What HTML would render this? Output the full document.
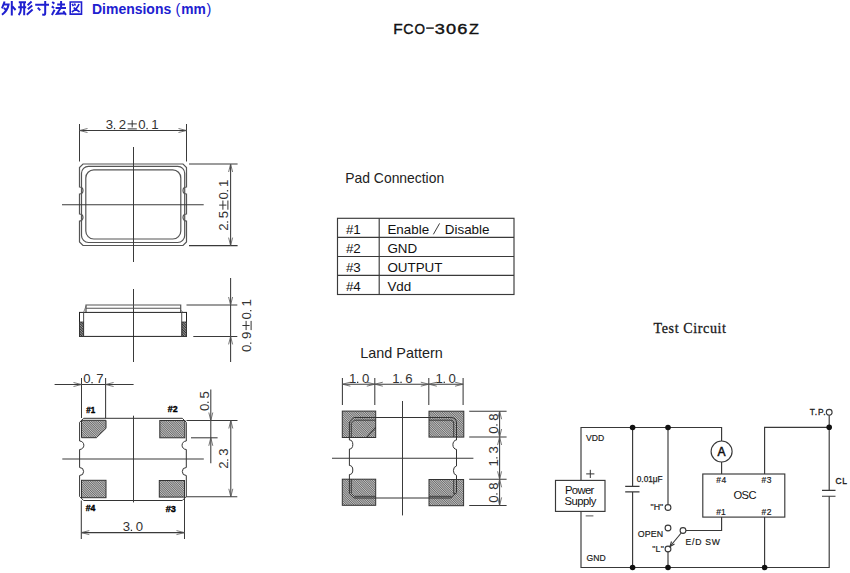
<!DOCTYPE html><html><head><meta charset="utf-8"><style>html,body{margin:0;padding:0;background:#fff;width:850px;height:573px;overflow:hidden;position:relative}</style></head><body><svg width="850" height="573" viewBox="0 0 850 573" style="position:absolute;left:0;top:0">
<defs><pattern id="hatch" patternUnits="userSpaceOnUse" width="1.6" height="1.6" patternTransform="rotate(-45)"><rect width="1.6" height="1.6" fill="#c4c4c4"/><rect width="0.7" height="1.6" fill="#5a5a5a"/></pattern><pattern id="hatch2" patternUnits="userSpaceOnUse" width="1.8" height="1.8" patternTransform="rotate(-45)"><rect width="1.8" height="1.8" fill="#999"/><rect width="0.9" height="1.8" fill="#333"/></pattern></defs>
<text x="92.0" y="13.8" font-family="Liberation Sans" font-size="15" font-weight="bold" fill="#2020d0" text-anchor="start" textLength="79.2" lengthAdjust="spacingAndGlyphs">Dimensions</text>
<text x="175.6" y="13.6" font-family="Liberation Sans" font-size="14.5" font-weight="normal" fill="#2020d0" text-anchor="start">(</text>
<text x="181.2" y="13.8" font-family="Liberation Sans" font-size="15" font-weight="bold" fill="#2020d0" text-anchor="start" textLength="24.6" lengthAdjust="spacingAndGlyphs">mm</text>
<text x="206.4" y="13.6" font-family="Liberation Sans" font-size="14.5" font-weight="normal" fill="#2020d0" text-anchor="start">)</text>
<path d="M4.6 1.5 L2 8.3 M4.2 4.5 L8.6 4.5 Q7.6 10.5 2 14.8 M3.8 8 L6.3 10 M11.8 1 L11.8 15.5 M12.4 6.4 L15.6 10 M18.8 2.2 L26 2.2 M18.2 7.2 L26.2 7.2 M20.8 2.2 L20.8 10 Q20.6 13.2 18.6 15 M24.2 2.2 L24.2 15.2 M31.6 1.6 L27.6 5.2 M32.2 5.5 L27.8 9.3 M32.6 9.6 L26.8 14.8 M35.2 4.8 L49 4.8 M45.2 1 L45.2 13.2 Q45.2 14.8 43.5 14.8 L42.2 14.6 M37.8 7.6 L40.2 10.4 M52.2 2 L54.4 3.6 M51.8 6.4 L54 8 M51.9 15 L54.6 9.8 M57.2 4.4 L65 4.4 M61.1 1 L61.1 7.9 M55.6 7.9 L66 7.9 M60.6 8.2 L56.8 13.8 L65.4 13.3 M63.3 11.2 L66 14.8" fill="none" stroke="#2020d0" stroke-width="2.0"/>
<path d="M70.2 2 L81.5 2 L81.5 14.1 L70.2 14.1 Z" fill="none" stroke="#2020d0" stroke-width="1.6"/>
<path d="M72.2 3.9 L73.4 6.1 M74.4 3.5 L75.4 5.6 M79 4 Q77 9.2 71.8 12 M73.6 7.6 L79.6 12" fill="none" stroke="#2020d0" stroke-width="1.7"/>
<text transform="translate(398.0 33.6) scale(1.0 1)" x="0" y="0" font-family="Liberation Sans" font-size="15.4" fill="#111" text-anchor="middle" stroke="#111" stroke-width="0.4">F</text>
<text transform="translate(408.35 33.6) scale(0.92 1)" x="0" y="0" font-family="Liberation Sans" font-size="15.4" fill="#111" text-anchor="middle" stroke="#111" stroke-width="0.4">C</text>
<text transform="translate(419.85 33.6) scale(0.88 1)" x="0" y="0" font-family="Liberation Sans" font-size="15.4" fill="#111" text-anchor="middle" stroke="#111" stroke-width="0.4">O</text>
<text transform="translate(439.7 33.6) scale(1.18 1)" x="0" y="0" font-family="Liberation Sans" font-size="15.4" fill="#111" text-anchor="middle" stroke="#111" stroke-width="0.4">3</text>
<text transform="translate(451.15 33.6) scale(1.18 1)" x="0" y="0" font-family="Liberation Sans" font-size="15.4" fill="#111" text-anchor="middle" stroke="#111" stroke-width="0.4">0</text>
<text transform="translate(462.35 33.6) scale(1.18 1)" x="0" y="0" font-family="Liberation Sans" font-size="15.4" fill="#111" text-anchor="middle" stroke="#111" stroke-width="0.4">6</text>
<text transform="translate(473.9 33.6) scale(1.05 1)" x="0" y="0" font-family="Liberation Sans" font-size="15.4" fill="#111" text-anchor="middle" stroke="#111" stroke-width="0.4">Z</text>
<line x1="426.2" y1="28.1" x2="433.8" y2="28.1" stroke="#111" stroke-width="1.4"/>
<line x1="79.5" y1="124" x2="79.5" y2="161.5" stroke="#3a3a3a" stroke-width="1.05"/>
<line x1="186.5" y1="124" x2="186.5" y2="161.5" stroke="#3a3a3a" stroke-width="1.05"/>
<line x1="79.5" y1="130.5" x2="186.5" y2="130.5" stroke="#3a3a3a" stroke-width="1.05"/>
<path d="M87.50 128.50 L79.5 130.5 L87.50 132.50" fill="none" stroke="#555" stroke-width="0.8"/>
<path d="M178.50 132.50 L186.5 130.5 L178.50 128.50" fill="none" stroke="#555" stroke-width="0.8"/>
<g transform="translate(106.2 129.2) rotate(0)">
<text x="3.25" y="0" font-family="Liberation Sans" font-size="13.2" fill="#333" text-anchor="middle">3</text>
<rect x="7.70" y="-1.3" width="1.3" height="1.3" fill="#333"/>
<text x="16.25" y="0" font-family="Liberation Sans" font-size="13.2" fill="#333" text-anchor="middle">2</text>
<path d="M21.40 -5.3 H30.60 M26.00 -9 V-1.8 M21.40 -0.3 H30.60" stroke="#333" stroke-width="1" fill="none"/>
<text x="35.75" y="0" font-family="Liberation Sans" font-size="13.2" fill="#333" text-anchor="middle">0</text>
<rect x="40.20" y="-1.3" width="1.3" height="1.3" fill="#333"/>
<text x="48.75" y="0" font-family="Liberation Sans" font-size="13.2" fill="#333" text-anchor="middle">1</text>
</g>
<path d="M83.0 164 L183.0 164 L186.5 167.5 L186.5 187 A3.5 3.5 0 0 0 186.5 194 L186.5 214 A3.5 3.5 0 0 0 186.5 221 L186.5 242.0 L183.0 245.5 L83.0 245.5 L79.5 242.0 L79.5 221 A3.5 3.5 0 0 0 79.5 214 L79.5 194 A3.5 3.5 0 0 0 79.5 187 L79.5 167.5 Z" fill="none" stroke="#555" stroke-width="1.2"/>
<rect x="81.5" y="166.3" width="103.2" height="76.2" rx="7" fill="none" stroke="#555" stroke-width="1.2"/>
<rect x="85.8" y="169.9" width="95" height="69.1" rx="8" fill="none" stroke="#555" stroke-width="1.2"/>
<line x1="133.5" y1="147" x2="133.5" y2="262" stroke="#3a3a3a" stroke-width="1.05"/>
<line x1="62" y1="204.7" x2="203.7" y2="204.7" stroke="#3a3a3a" stroke-width="1.05"/>
<line x1="189" y1="164" x2="237.6" y2="164" stroke="#3a3a3a" stroke-width="1.05"/>
<line x1="189" y1="245.6" x2="237.6" y2="245.6" stroke="#3a3a3a" stroke-width="1.05"/>
<line x1="230.6" y1="164" x2="230.6" y2="245.6" stroke="#3a3a3a" stroke-width="1.05"/>
<path d="M232.60 172.00 L230.6 164 L228.60 172.00" fill="none" stroke="#555" stroke-width="0.8"/>
<path d="M228.60 237.60 L230.6 245.6 L232.60 237.60" fill="none" stroke="#555" stroke-width="0.8"/>
<g transform="translate(228.2 230.1) rotate(-90)">
<text x="3.12" y="0" font-family="Liberation Sans" font-size="13.2" fill="#333" text-anchor="middle">2</text>
<rect x="7.45" y="-1.3" width="1.3" height="1.3" fill="#333"/>
<text x="15.62" y="0" font-family="Liberation Sans" font-size="13.2" fill="#333" text-anchor="middle">5</text>
<path d="M20.40 -5.3 H29.60 M25.00 -9 V-1.8 M20.40 -0.3 H29.60" stroke="#333" stroke-width="1" fill="none"/>
<text x="34.38" y="0" font-family="Liberation Sans" font-size="13.2" fill="#333" text-anchor="middle">0</text>
<rect x="38.70" y="-1.3" width="1.3" height="1.3" fill="#333"/>
<text x="46.88" y="0" font-family="Liberation Sans" font-size="13.2" fill="#333" text-anchor="middle">1</text>
</g>
<line x1="133.5" y1="289" x2="133.5" y2="362" stroke="#3a3a3a" stroke-width="1.05"/>
<path d="M86 312.4 L86 305 L180.7 305 L180.7 312.4" fill="none" stroke="#555" stroke-width="1.2"/>
<line x1="86" y1="308.2" x2="180.7" y2="308.2" stroke="#555" stroke-width="1.05"/>
<rect x="79.5" y="312.4" width="107" height="24" fill="none" stroke="#222" stroke-width="1"/>
<line x1="83.6" y1="312.4" x2="83.6" y2="336.4" stroke="#555" stroke-width="1.05"/>
<line x1="181.7" y1="312.4" x2="181.7" y2="336.4" stroke="#555" stroke-width="1.05"/>
<rect x="79.5" y="322" width="4" height="14.4" fill="url(#hatch2)" stroke="#333" stroke-width="0.8"/>
<rect x="182" y="322" width="4.5" height="14.4" fill="url(#hatch2)" stroke="#333" stroke-width="0.8"/>
<line x1="83.6" y1="312.4" x2="86" y2="306" stroke="#555" stroke-width="0.7"/>
<line x1="183" y1="312.4" x2="180.7" y2="310" stroke="#555" stroke-width="0.7"/>
<line x1="186.5" y1="305" x2="237.3" y2="305" stroke="#3a3a3a" stroke-width="1.05"/>
<line x1="193.3" y1="336.4" x2="237.3" y2="336.4" stroke="#3a3a3a" stroke-width="1.05"/>
<line x1="230.6" y1="278" x2="230.6" y2="362" stroke="#3a3a3a" stroke-width="1.05"/>
<path d="M228.60 297.00 L230.6 305 L232.60 297.00" fill="none" stroke="#555" stroke-width="0.8"/>
<path d="M232.60 344.40 L230.6 336.4 L228.60 344.40" fill="none" stroke="#555" stroke-width="0.8"/>
<g transform="translate(251.4 351.5) rotate(-90)">
<text x="3.25" y="0" font-family="Liberation Sans" font-size="13.2" fill="#333" text-anchor="middle">0</text>
<rect x="7.70" y="-1.3" width="1.3" height="1.3" fill="#333"/>
<text x="16.25" y="0" font-family="Liberation Sans" font-size="13.2" fill="#333" text-anchor="middle">9</text>
<path d="M21.40 -5.3 H30.60 M26.00 -9 V-1.8 M21.40 -0.3 H30.60" stroke="#333" stroke-width="1" fill="none"/>
<text x="35.75" y="0" font-family="Liberation Sans" font-size="13.2" fill="#333" text-anchor="middle">0</text>
<rect x="40.20" y="-1.3" width="1.3" height="1.3" fill="#333"/>
<text x="48.75" y="0" font-family="Liberation Sans" font-size="13.2" fill="#333" text-anchor="middle">1</text>
</g>
<line x1="54.6" y1="384.5" x2="133.6" y2="384.5" stroke="#3a3a3a" stroke-width="1.05"/>
<line x1="81.5" y1="378" x2="81.5" y2="418" stroke="#3a3a3a" stroke-width="1.05"/>
<line x1="105.6" y1="378" x2="105.6" y2="418" stroke="#3a3a3a" stroke-width="1.05"/>
<path d="M73.50 386.50 L81.5 384.5 L73.50 382.50" fill="none" stroke="#555" stroke-width="0.8"/>
<path d="M113.60 382.50 L105.6 384.5 L113.60 386.50" fill="none" stroke="#555" stroke-width="0.8"/>
<g transform="translate(83.7 383.3) rotate(0)">
<text x="3.25" y="0" font-family="Liberation Sans" font-size="13.2" fill="#333" text-anchor="middle">0</text>
<rect x="7.70" y="-1.3" width="1.3" height="1.3" fill="#333"/>
<text x="16.25" y="0" font-family="Liberation Sans" font-size="13.2" fill="#333" text-anchor="middle">7</text>
</g>
<path d="M83.6 418.3 L182.3 418.3 L186.3 422.3 L186.3 441 A4.25 4.25 0 0 0 186.3 449.5 L186.3 467.5 A4.0 4.0 0 0 0 186.3 475.5 L186.3 496.5 L182.3 500.5 L83.6 500.5 L79.6 496.5 L79.6 475.5 A4.0 4.0 0 0 0 79.6 467.5 L79.6 449.5 A4.25 4.25 0 0 0 79.6 441 L79.6 422.3 Z" fill="none" stroke="#333" stroke-width="1"/>
<path d="M81.5 420.3 L106 420.3 L106 428.3 L96.4 437.7 L81.5 437.7 Z" fill="url(#hatch)" stroke="#333" stroke-width="1"/>
<rect x="159.8" y="420.5" width="25" height="17.3" fill="url(#hatch)" stroke="#333" stroke-width="1"/>
<rect x="81.5" y="480.3" width="24.5" height="17.4" fill="url(#hatch)" stroke="#333" stroke-width="1"/>
<rect x="159.3" y="480.5" width="25.2" height="16.6" fill="url(#hatch)" stroke="#333" stroke-width="1"/>
<text x="86.2" y="413.1" font-family="Liberation Sans" font-size="9.8" font-weight="bold" fill="#000" text-anchor="start" textLength="8.9" lengthAdjust="spacingAndGlyphs" stroke="#000" stroke-width="0.4">#1</text>
<text x="167.8" y="412.4" font-family="Liberation Sans" font-size="9.8" font-weight="bold" fill="#000" text-anchor="start" textLength="9.8" lengthAdjust="spacingAndGlyphs" stroke="#000" stroke-width="0.4">#2</text>
<text x="85.7" y="511.2" font-family="Liberation Sans" font-size="9.8" font-weight="bold" fill="#000" text-anchor="start" textLength="9.6" lengthAdjust="spacingAndGlyphs" stroke="#000" stroke-width="0.4">#4</text>
<text x="165.7" y="511.8" font-family="Liberation Sans" font-size="9.8" font-weight="bold" fill="#000" text-anchor="start" textLength="10.2" lengthAdjust="spacingAndGlyphs" stroke="#000" stroke-width="0.4">#3</text>
<line x1="133.5" y1="415.7" x2="133.5" y2="502.4" stroke="#3a3a3a" stroke-width="1.05"/>
<line x1="62.3" y1="459" x2="203.8" y2="459" stroke="#3a3a3a" stroke-width="1.05"/>
<line x1="186.5" y1="420.5" x2="237.5" y2="420.5" stroke="#3a3a3a" stroke-width="1.05"/>
<line x1="191" y1="437.8" x2="217.6" y2="437.8" stroke="#3a3a3a" stroke-width="1.05"/>
<line x1="210.8" y1="389.4" x2="210.8" y2="463.2" stroke="#3a3a3a" stroke-width="1.05"/>
<path d="M208.80 412.50 L210.8 420.5 L212.80 412.50" fill="none" stroke="#555" stroke-width="0.8"/>
<path d="M212.80 445.80 L210.8 437.8 L208.80 445.80" fill="none" stroke="#555" stroke-width="0.8"/>
<g transform="translate(208.7 410.4) rotate(-90)">
<text x="3.10" y="0" font-family="Liberation Sans" font-size="13.2" fill="#333" text-anchor="middle">0</text>
<rect x="7.40" y="-1.3" width="1.3" height="1.3" fill="#333"/>
<text x="15.50" y="0" font-family="Liberation Sans" font-size="13.2" fill="#333" text-anchor="middle">5</text>
</g>
<line x1="185.8" y1="496.8" x2="237.3" y2="496.8" stroke="#3a3a3a" stroke-width="1.05"/>
<line x1="230.8" y1="420.5" x2="230.8" y2="496.8" stroke="#3a3a3a" stroke-width="1.05"/>
<path d="M232.80 428.50 L230.8 420.5 L228.80 428.50" fill="none" stroke="#555" stroke-width="0.8"/>
<path d="M228.80 488.80 L230.8 496.8 L232.80 488.80" fill="none" stroke="#555" stroke-width="0.8"/>
<g transform="translate(228.3 468.4) rotate(-90)">
<text x="3.25" y="0" font-family="Liberation Sans" font-size="13.2" fill="#333" text-anchor="middle">2</text>
<rect x="7.70" y="-1.3" width="1.3" height="1.3" fill="#333"/>
<text x="16.25" y="0" font-family="Liberation Sans" font-size="13.2" fill="#333" text-anchor="middle">3</text>
</g>
<line x1="81.3" y1="500.5" x2="81.3" y2="539" stroke="#3a3a3a" stroke-width="1.05"/>
<line x1="184.5" y1="495.7" x2="184.5" y2="539" stroke="#3a3a3a" stroke-width="1.05"/>
<line x1="81.3" y1="532.6" x2="184.5" y2="532.6" stroke="#3a3a3a" stroke-width="1.05"/>
<path d="M89.30 530.60 L81.3 532.6 L89.30 534.60" fill="none" stroke="#555" stroke-width="0.8"/>
<path d="M176.50 534.60 L184.5 532.6 L176.50 530.60" fill="none" stroke="#555" stroke-width="0.8"/>
<g transform="translate(123.1 531) rotate(0)">
<text x="3.25" y="0" font-family="Liberation Sans" font-size="13.2" fill="#333" text-anchor="middle">3</text>
<rect x="7.70" y="-1.3" width="1.3" height="1.3" fill="#333"/>
<text x="16.25" y="0" font-family="Liberation Sans" font-size="13.2" fill="#333" text-anchor="middle">0</text>
</g>
<text x="345.3" y="182.7" font-family="Liberation Sans" font-size="13.9" font-weight="normal" fill="#222" text-anchor="start">Pad Connection</text>
<rect x="337.5" y="218.3" width="176.5" height="76.2" fill="none" stroke="#3a3a3a" stroke-width="1.15"/>
<line x1="337.5" y1="237.3" x2="514" y2="237.3" stroke="#3a3a3a" stroke-width="1.15"/>
<line x1="337.5" y1="256.5" x2="514" y2="256.5" stroke="#3a3a3a" stroke-width="1.15"/>
<line x1="337.5" y1="275.4" x2="514" y2="275.4" stroke="#3a3a3a" stroke-width="1.15"/>
<line x1="379.2" y1="218.3" x2="379.2" y2="294.5" stroke="#3a3a3a" stroke-width="1.15"/>
<text x="345.9" y="233.5" font-family="Liberation Sans" font-size="13.4" font-weight="normal" fill="#111" text-anchor="start">#1</text>
<text x="387.4" y="233.5" font-family="Liberation Sans" font-size="13.4" font-weight="normal" fill="#111" text-anchor="start">Enable</text>
<text x="345.9" y="252.7" font-family="Liberation Sans" font-size="13.4" font-weight="normal" fill="#111" text-anchor="start">#2</text>
<text x="387.4" y="252.7" font-family="Liberation Sans" font-size="13.4" font-weight="normal" fill="#111" text-anchor="start">GND</text>
<text x="345.9" y="271.9" font-family="Liberation Sans" font-size="13.4" font-weight="normal" fill="#111" text-anchor="start">#3</text>
<text x="387.4" y="271.9" font-family="Liberation Sans" font-size="13.4" font-weight="normal" fill="#111" text-anchor="start">OUTPUT</text>
<text x="345.9" y="291.1" font-family="Liberation Sans" font-size="13.4" font-weight="normal" fill="#111" text-anchor="start">#4</text>
<text x="387.4" y="291.1" font-family="Liberation Sans" font-size="13.4" font-weight="normal" fill="#111" text-anchor="start">Vdd</text>
<line x1="433.4" y1="234.3" x2="439.6" y2="223.4" stroke="#333" stroke-width="0.95"/>
<text x="444.8" y="233.5" font-family="Liberation Sans" font-size="13.4" font-weight="normal" fill="#111" text-anchor="start">Disable</text>
<text x="360.3" y="357.6" font-family="Liberation Sans" font-size="14.4" font-weight="normal" fill="#222" text-anchor="start">Land Pattern</text>
<line x1="342.4" y1="378" x2="342.4" y2="405" stroke="#3a3a3a" stroke-width="1.05"/>
<line x1="374.8" y1="378" x2="374.8" y2="405" stroke="#3a3a3a" stroke-width="1.05"/>
<line x1="428.8" y1="378" x2="428.8" y2="405" stroke="#3a3a3a" stroke-width="1.05"/>
<line x1="463.1" y1="378" x2="463.1" y2="405" stroke="#3a3a3a" stroke-width="1.05"/>
<line x1="342.4" y1="384.2" x2="463.1" y2="384.2" stroke="#3a3a3a" stroke-width="1.05"/>
<path d="M350.40 382.20 L342.4 384.2 L350.40 386.20" fill="none" stroke="#555" stroke-width="0.8"/>
<path d="M366.80 386.20 L374.8 384.2 L366.80 382.20" fill="none" stroke="#555" stroke-width="0.8"/>
<path d="M382.80 382.20 L374.8 384.2 L382.80 386.20" fill="none" stroke="#555" stroke-width="0.8"/>
<path d="M420.80 386.20 L428.8 384.2 L420.80 382.20" fill="none" stroke="#555" stroke-width="0.8"/>
<path d="M436.80 382.20 L428.8 384.2 L436.80 386.20" fill="none" stroke="#555" stroke-width="0.8"/>
<path d="M455.10 386.20 L463.1 384.2 L455.10 382.20" fill="none" stroke="#555" stroke-width="0.8"/>
<g transform="translate(349.3 383) rotate(0)">
<text x="3.25" y="0" font-family="Liberation Sans" font-size="13.2" fill="#333" text-anchor="middle">1</text>
<rect x="7.70" y="-1.3" width="1.3" height="1.3" fill="#333"/>
<text x="16.25" y="0" font-family="Liberation Sans" font-size="13.2" fill="#333" text-anchor="middle">0</text>
</g>
<g transform="translate(392.7 383) rotate(0)">
<text x="3.25" y="0" font-family="Liberation Sans" font-size="13.2" fill="#333" text-anchor="middle">1</text>
<rect x="7.70" y="-1.3" width="1.3" height="1.3" fill="#333"/>
<text x="16.25" y="0" font-family="Liberation Sans" font-size="13.2" fill="#333" text-anchor="middle">6</text>
</g>
<g transform="translate(435.9 383) rotate(0)">
<text x="3.25" y="0" font-family="Liberation Sans" font-size="13.2" fill="#333" text-anchor="middle">1</text>
<rect x="7.70" y="-1.3" width="1.3" height="1.3" fill="#333"/>
<text x="16.25" y="0" font-family="Liberation Sans" font-size="13.2" fill="#333" text-anchor="middle">0</text>
</g>
<rect x="342.3" y="411.1" width="33.4" height="26.4" fill="url(#hatch)" stroke="#333" stroke-width="1"/>
<rect x="429" y="411.2" width="34.8" height="25.9" fill="url(#hatch)" stroke="#333" stroke-width="1"/>
<rect x="342.3" y="479.2" width="33.4" height="26.1" fill="url(#hatch)" stroke="#333" stroke-width="1"/>
<rect x="429" y="479.5" width="34.6" height="26.2" fill="url(#hatch)" stroke="#333" stroke-width="1"/>
<path d="M354 417.5 L450.8 417.5 Q456.5 417.5 456.5 423 L456.5 440 A3.6 4.7 0 0 0 456.5 449.4 L456.5 466 A3.6 4.7 0 0 0 456.5 475.3 L456.5 492.3 L450.8 498 L354 498 L349.4 493.5 L349.4 474.5 A3.4 4.5 0 0 0 349.4 465.5 L349.4 449 A3.4 4.5 0 0 0 349.4 440 L349.4 422 Z" fill="none" stroke="#333" stroke-width="1"/>
<path d="M375.7 420.2 L354.3 420.2 L351.3 423.2 L351.3 437.5 M429 420.2 L451 420.2 Q453.7 420.2 453.7 423 L453.7 437 M351.3 479.2 L351.3 493.3 L354.3 496.3 L375.7 496.3 M429 496.3 L451.2 496.3 M456.5 493.7 L453.7 493.7 L453.7 479.5" fill="none" stroke="#333" stroke-width="0.9"/>
<line x1="366.5" y1="437.5" x2="375.7" y2="427.4" stroke="#333" stroke-width="1.05"/>
<line x1="332" y1="458.3" x2="473.4" y2="458.3" stroke="#3a3a3a" stroke-width="1.05"/>
<line x1="402.5" y1="401" x2="402.5" y2="515.4" stroke="#3a3a3a" stroke-width="1.05"/>
<line x1="469.2" y1="411.2" x2="506.6" y2="411.2" stroke="#3a3a3a" stroke-width="1.05"/>
<line x1="469.2" y1="437" x2="506.6" y2="437" stroke="#3a3a3a" stroke-width="1.05"/>
<line x1="469.2" y1="479.3" x2="506.6" y2="479.3" stroke="#3a3a3a" stroke-width="1.05"/>
<line x1="469.2" y1="505.4" x2="506.6" y2="505.4" stroke="#3a3a3a" stroke-width="1.05"/>
<line x1="499.6" y1="411.2" x2="499.6" y2="505.4" stroke="#3a3a3a" stroke-width="1.05"/>
<path d="M501.60 419.20 L499.6 411.2 L497.60 419.20" fill="none" stroke="#555" stroke-width="0.8"/>
<path d="M497.60 429.00 L499.6 437 L501.60 429.00" fill="none" stroke="#555" stroke-width="0.8"/>
<path d="M501.60 445.00 L499.6 437 L497.60 445.00" fill="none" stroke="#555" stroke-width="0.8"/>
<path d="M497.60 471.30 L499.6 479.3 L501.60 471.30" fill="none" stroke="#555" stroke-width="0.8"/>
<path d="M501.60 487.30 L499.6 479.3 L497.60 487.30" fill="none" stroke="#555" stroke-width="0.8"/>
<path d="M497.60 497.40 L499.6 505.4 L501.60 497.40" fill="none" stroke="#555" stroke-width="0.8"/>
<g transform="translate(497.5 433.3) rotate(-90)">
<text x="3.25" y="0" font-family="Liberation Sans" font-size="13.2" fill="#333" text-anchor="middle">0</text>
<rect x="7.70" y="-1.3" width="1.3" height="1.3" fill="#333"/>
<text x="16.25" y="0" font-family="Liberation Sans" font-size="13.2" fill="#333" text-anchor="middle">8</text>
</g>
<g transform="translate(497.5 466.2) rotate(-90)">
<text x="3.25" y="0" font-family="Liberation Sans" font-size="13.2" fill="#333" text-anchor="middle">1</text>
<rect x="7.70" y="-1.3" width="1.3" height="1.3" fill="#333"/>
<text x="16.25" y="0" font-family="Liberation Sans" font-size="13.2" fill="#333" text-anchor="middle">3</text>
</g>
<g transform="translate(497.5 502.3) rotate(-90)">
<text x="3.25" y="0" font-family="Liberation Sans" font-size="13.2" fill="#333" text-anchor="middle">0</text>
<rect x="7.70" y="-1.3" width="1.3" height="1.3" fill="#333"/>
<text x="16.25" y="0" font-family="Liberation Sans" font-size="13.2" fill="#333" text-anchor="middle">8</text>
</g>
<text x="653.5" y="332.6" font-family="Liberation Serif" font-size="14" font-weight="normal" fill="#1a1a1a" text-anchor="start" textLength="72.5" lengthAdjust="spacing" stroke="#1a1a1a" stroke-width="0.3">Test Circuit</text>
<path d="M581 480.4 L581 427.5 L721.6 427.5 L721.6 441" fill="none" stroke="#383838" stroke-width="1.15"/>
<path d="M721.6 462 L721.6 474" fill="none" stroke="#383838" stroke-width="1.15"/>
<path d="M581 511.4 L581 567.5 L829.2 567.5 L829.2 496.2" fill="none" stroke="#383838" stroke-width="1.15"/>
<path d="M632.6 427.5 L632.6 486.3 M632.6 491.9 L632.6 567.5" fill="none" stroke="#383838" stroke-width="1.15"/>
<path d="M625.2 486.3 L639.5 486.3 M625.2 491.9 L639.5 491.9" fill="none" stroke="#383838" stroke-width="1.15"/>
<path d="M668 427.5 L668 504.5" fill="none" stroke="#383838" stroke-width="1.15"/>
<path d="M668 551.9 L668 567.5" fill="none" stroke="#383838" stroke-width="1.15"/>
<path d="M721.6 517 L721.6 530.5 L686 530.5" fill="none" stroke="#383838" stroke-width="1.15"/>
<path d="M764.6 474 L764.6 427.3 L829.2 427.3 L829.2 490.3 M829.2 415.3 L829.2 427.3" fill="none" stroke="#383838" stroke-width="1.15"/>
<path d="M764.6 517 L764.6 567.5" fill="none" stroke="#383838" stroke-width="1.15"/>
<path d="M822 490.3 L835.5 490.3 M822 496.2 L835.5 496.2" fill="none" stroke="#383838" stroke-width="1.15"/>
<rect x="555.5" y="480.4" width="49.5" height="31" fill="none" stroke="#383838" stroke-width="1.15"/>
<rect x="702.8" y="474" width="82" height="43.1" fill="none" stroke="#383838" stroke-width="1.15"/>
<circle cx="721.6" cy="451.5" r="10.5" fill="none" stroke="#383838" stroke-width="1.15"/>
<circle cx="632.6" cy="427.5" r="2.8" fill="#111"/>
<circle cx="668" cy="427.5" r="2.8" fill="#111"/>
<circle cx="829.2" cy="427.3" r="2.8" fill="#111"/>
<circle cx="632.6" cy="567.5" r="2.8" fill="#111"/>
<circle cx="668" cy="567.5" r="2.8" fill="#111"/>
<circle cx="764.6" cy="567.5" r="2.8" fill="#111"/>
<circle cx="668" cy="507.5" r="2.9" fill="#fff" stroke="#383838" stroke-width="1.1"/>
<circle cx="668" cy="528" r="2.9" fill="#fff" stroke="#383838" stroke-width="1.1"/>
<circle cx="683" cy="530.5" r="2.9" fill="#fff" stroke="#383838" stroke-width="1.1"/>
<circle cx="668" cy="549" r="2.9" fill="#fff" stroke="#383838" stroke-width="1.1"/>
<circle cx="829.2" cy="412.3" r="2.9" fill="#fff" stroke="#383838" stroke-width="1.1"/>
<path d="M681.2 533 L670 546.5" fill="none" stroke="#383838" stroke-width="1.15"/>
<path d="M671.5 541.5 L670 546.5 L674.5 544" fill="none" stroke="#383838" stroke-width="1.15"/>
<text x="717.4" y="455.6" font-family="Liberation Sans" font-size="12" font-weight="normal" fill="#111" text-anchor="start" stroke="#111" stroke-width="0.5">A</text>
<text x="585.9" y="440.8" font-family="Liberation Sans" font-size="8.6" font-weight="normal" fill="#1a1a1a" text-anchor="start" textLength="18.2" lengthAdjust="spacing" stroke="#1a1a1a" stroke-width="0.18">VDD</text>
<text x="586.6" y="561.3" font-family="Liberation Sans" font-size="8.6" font-weight="normal" fill="#1a1a1a" text-anchor="start" textLength="19" lengthAdjust="spacing" stroke="#1a1a1a" stroke-width="0.18">GND</text>
<line x1="586.2" y1="473.9" x2="594.4" y2="473.9" stroke="#333" stroke-width="1"/>
<line x1="590.3" y1="469.8" x2="590.3" y2="478" stroke="#333" stroke-width="1"/>
<line x1="585.7" y1="515.9" x2="593.4" y2="515.9" stroke="#555" stroke-width="1"/>
<text x="565" y="493.9" font-family="Liberation Sans" font-size="11.3" font-weight="normal" fill="#111" text-anchor="start" textLength="29.3" lengthAdjust="spacing">Power</text>
<text x="564.6" y="504.5" font-family="Liberation Sans" font-size="11.3" font-weight="normal" fill="#111" text-anchor="start" textLength="31.8" lengthAdjust="spacing">Supply</text>
<text x="636.8" y="481.9" font-family="Liberation Sans" font-size="8.8" font-weight="normal" fill="#1a1a1a" text-anchor="start" textLength="25.8" lengthAdjust="spacingAndGlyphs" stroke="#1a1a1a" stroke-width="0.25">0.01μF</text>
<text x="650.6" y="510.2" font-family="Liberation Sans" font-size="8.8" font-weight="normal" fill="#1a1a1a" text-anchor="start" textLength="12.6" lengthAdjust="spacing" stroke="#1a1a1a" stroke-width="0.18">"H"</text>
<text x="637.8" y="537.1" font-family="Liberation Sans" font-size="8.8" font-weight="normal" fill="#1a1a1a" text-anchor="start" textLength="25.4" lengthAdjust="spacing" stroke="#1a1a1a" stroke-width="0.18">OPEN</text>
<text x="652.3" y="551.9" font-family="Liberation Sans" font-size="8.8" font-weight="normal" fill="#1a1a1a" text-anchor="start" textLength="11.5" lengthAdjust="spacing" stroke="#1a1a1a" stroke-width="0.18">"L"</text>
<text x="685.6" y="544.7" font-family="Liberation Sans" font-size="8.6" font-weight="normal" fill="#1a1a1a" text-anchor="start" textLength="34.2" lengthAdjust="spacing" stroke="#1a1a1a" stroke-width="0.18">E/D SW</text>
<text x="716.2" y="483" font-family="Liberation Sans" font-size="8.5" font-weight="normal" fill="#1a1a1a" text-anchor="start" textLength="10" lengthAdjust="spacing" stroke="#1a1a1a" stroke-width="0.18">#4</text>
<text x="761.4" y="483" font-family="Liberation Sans" font-size="8.5" font-weight="normal" fill="#1a1a1a" text-anchor="start" textLength="10" lengthAdjust="spacing" stroke="#1a1a1a" stroke-width="0.18">#3</text>
<text x="716.2" y="515" font-family="Liberation Sans" font-size="8.5" font-weight="normal" fill="#1a1a1a" text-anchor="start" textLength="9.5" lengthAdjust="spacing" stroke="#1a1a1a" stroke-width="0.18">#1</text>
<text x="761.4" y="515" font-family="Liberation Sans" font-size="8.5" font-weight="normal" fill="#1a1a1a" text-anchor="start" textLength="10" lengthAdjust="spacing" stroke="#1a1a1a" stroke-width="0.18">#2</text>
<text x="733.5" y="499.4" font-family="Liberation Sans" font-size="11.2" font-weight="normal" fill="#111" text-anchor="start" textLength="23" lengthAdjust="spacing">OSC</text>
<text x="809.8" y="414.8" font-family="Liberation Sans" font-size="8.4" font-weight="normal" fill="#222" text-anchor="start" textLength="15.8" lengthAdjust="spacing" stroke="#222" stroke-width="0.3">T.P.</text>
<text x="835.6" y="483.9" font-family="Liberation Sans" font-size="8.4" font-weight="normal" fill="#222" text-anchor="start" textLength="11.2" lengthAdjust="spacing" stroke="#222" stroke-width="0.35">CL</text>
</svg></body></html>
